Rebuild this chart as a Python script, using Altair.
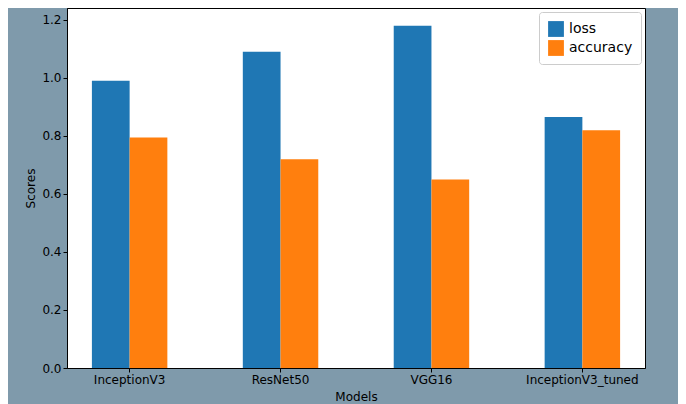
import altair as alt
import pandas as pd

models = ["InceptionV3", "ResNet50", "VGG16", "InceptionV3_tuned"]
loss = [0.99, 1.09, 1.18, 0.865]
accuracy = [0.795, 0.72, 0.65, 0.82]

rows = []
for m, l, a in zip(models, loss, accuracy):
    rows.append({"Models": m, "metric": "loss", "score": l})
    rows.append({"Models": m, "metric": "accuracy", "score": a})
df = pd.DataFrame(rows)

chart = alt.Chart(df).mark_bar().encode(
    x=alt.X("Models:N", sort=models, title="Models",
            scale=alt.Scale(paddingInner=0.5, paddingOuter=0.165),
            axis=alt.Axis(labelAngle=0, grid=False, titlePadding=6)),
    xOffset=alt.XOffset("metric:N", sort=["loss", "accuracy"]),
    y=alt.Y("score:Q", title="Scores", scale=alt.Scale(domain=[0, 1.241], nice=False),
            axis=alt.Axis(values=[0, 0.2, 0.4, 0.6, 0.8, 1.0, 1.2], format=".1f", grid=False)),
    color=alt.Color("metric:N", sort=["loss", "accuracy"], title=None,
                    scale=alt.Scale(domain=["loss", "accuracy"], range=["#1f77b4", "#ff7f0e"]),
                    legend=alt.Legend(orient="top-right", fillColor="white", strokeColor="#cccccc",
                                      padding=8, symbolType="square", symbolSize=250,
                                      labelFontSize=14, offset=4, cornerRadius=3)),
).properties(
    width=578, height=360,
    autosize=alt.AutoSizeParams(type="none"),
    padding={"left": 59, "top": 0, "right": 33, "bottom": 40},
    background="#7f9aab",
).configure_view(
    fill="white", stroke="black", strokeWidth=1
).configure_axis(
    labelFont="DejaVu Sans", titleFont="DejaVu Sans", labelFontSize=12, titleFontSize=12,
    titleFontWeight="normal", labelColor="black", titleColor="black",
    domainColor="black", tickColor="black", tickSize=4
).configure_legend(labelFont="DejaVu Sans")

chart.save("out.html", embed_options={"renderer": "svg", "actions": False})
